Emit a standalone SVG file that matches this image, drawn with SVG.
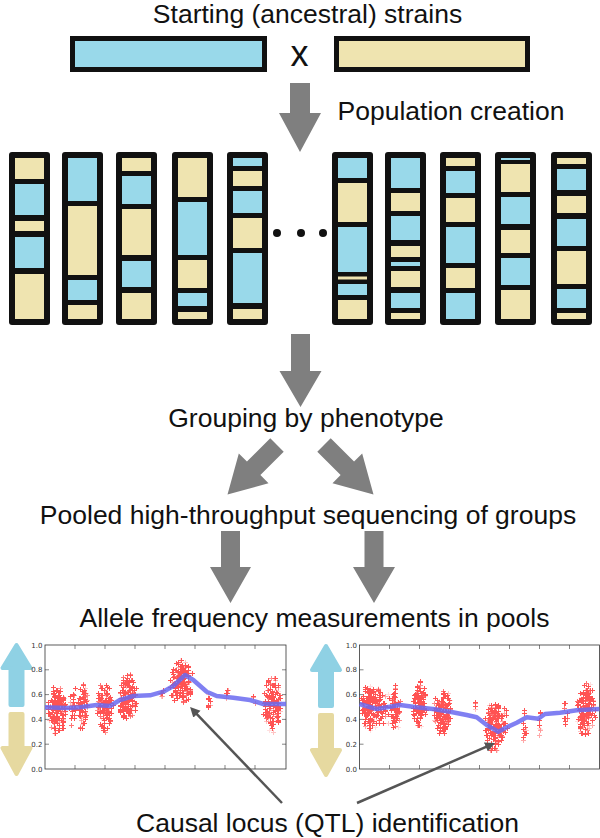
<svg xmlns="http://www.w3.org/2000/svg" width="600" height="838" viewBox="0 0 600 838">
<defs>
<style>
text{font-family:"Liberation Sans",Arial,sans-serif;fill:#111}
.lbl{font-size:26.5px}
.mid{text-anchor:middle}
.tick{font-family:"DejaVu Sans",sans-serif;font-size:7px;fill:#333;text-anchor:end}
.chr{fill:#111}
.b{fill:#99d9ea}
.t{fill:#efe4b0}
.ga{fill:#7f7f7f}
.ax{fill:none;stroke:#333;stroke-width:0.8}
.tk{fill:none;stroke:#333;stroke-width:0.6}
.fit{fill:none;stroke:#6a6af0;stroke-width:4.5;stroke-opacity:0.85;stroke-linejoin:round}
.ptr{stroke:#555;stroke-width:2.5;fill:none}
.upb{fill:#8fd1e4;stroke:#8fd1e4;stroke-width:4;stroke-linejoin:round}
.dnt{fill:#e6d9a0;stroke:#e6d9a0;stroke-width:4;stroke-linejoin:round}
.cl{fill:url(#dg)}
.sp{fill:url(#dg);fill-opacity:0.86}
</style>
<radialGradient id="dg">
<stop offset="0" stop-color="#000" stop-opacity="1"/>
<stop offset="0.6" stop-color="#000" stop-opacity="0.93"/>
<stop offset="1" stop-color="#000" stop-opacity="0.76"/>
</radialGradient>
<filter id="scat" filterUnits="userSpaceOnUse" x="40" y="640" width="565" height="135" color-interpolation-filters="sRGB">
<feTurbulence type="fractalNoise" baseFrequency="0.6" numOctaves="1" seed="11" result="n"/>
<feColorMatrix in="n" type="matrix" values="0 0 0 0 0  0 0 0 0 0  0 0 0 0 0  1 0 0 0 0" result="na"/>
<feComposite in="na" in2="SourceAlpha" operator="arithmetic" k1="0" k2="1" k3="0.5" k4="-0.5" result="m"/>
<feComponentTransfer in="m" result="th"><feFuncA type="linear" slope="40" intercept="-22.4"/></feComponentTransfer>
<feOffset in="th" dx="1" dy="0" result="o1"/>
<feOffset in="th" dx="-1" dy="0" result="o2"/>
<feOffset in="th" dx="2" dy="0" result="o3"/>
<feOffset in="th" dx="-2" dy="0" result="o4"/>
<feOffset in="th" dx="0" dy="1" result="o5"/>
<feOffset in="th" dx="0" dy="-1" result="o6"/>
<feOffset in="th" dx="0" dy="2" result="o7"/>
<feOffset in="th" dx="0" dy="-2" result="o8"/>
<feMerge result="p"><feMergeNode in="th"/><feMergeNode in="o1"/><feMergeNode in="o2"/><feMergeNode in="o3"/><feMergeNode in="o4"/><feMergeNode in="o5"/><feMergeNode in="o6"/><feMergeNode in="o7"/><feMergeNode in="o8"/></feMerge>
<feColorMatrix in="p" type="matrix" values="0 0 0 0 1  0 0 0 0 0.1  0 0 0 0 0.1  0 0 0 0.75 0"/>
</filter>
<marker id="ah" markerUnits="userSpaceOnUse" markerWidth="12" markerHeight="12" refX="4" refY="5" orient="auto">
<path d="M0,0 L10,5 L0,10 z" fill="#555"/>
</marker>
</defs>
<rect width="600" height="838" fill="#fff"/>

<g id="title"><text class="lbl mid" x="307.5" y="23">Starting (ancestral) strains</text></g>

<g id="strain-blue"><rect x="72.5" y="38.5" width="192" height="31" class="b" stroke="#111" stroke-width="5"/></g>
<g id="cross"><text class="mid" x="299.5" y="66" font-size="36">x</text></g>
<g id="strain-tan"><rect x="336.5" y="38.5" width="191" height="31" class="t" stroke="#111" stroke-width="5"/></g>

<g id="label-population"><text class="lbl" x="337.5" y="120">Population creation</text></g>

<g id="chr1"><rect class="chr" x="9" y="152" width="41" height="173" rx="3"/>
<rect class="t" x="15" y="158" width="29" height="21"/><rect class="b" x="15" y="184" width="29" height="31"/><rect class="t" x="15" y="221" width="29" height="10"/><rect class="b" x="15" y="237" width="29" height="31"/><rect class="t" x="15" y="274" width="29" height="45"/></g>
<g id="chr2"><rect class="chr" x="62" y="152" width="41" height="173" rx="3"/>
<rect class="b" x="68" y="158" width="29" height="43"/><rect class="t" x="68" y="206" width="29" height="69"/><rect class="b" x="68" y="280" width="29" height="20"/><rect class="t" x="68" y="305" width="29" height="14"/></g>
<g id="chr3"><rect class="chr" x="116" y="152" width="41" height="173" rx="3"/>
<rect class="t" x="122" y="158" width="29" height="13"/><rect class="b" x="122" y="176" width="29" height="28"/><rect class="t" x="122" y="209" width="29" height="46"/><rect class="b" x="122" y="261" width="29" height="26"/><rect class="t" x="122" y="293" width="29" height="26"/></g>
<g id="chr4"><rect class="chr" x="172" y="152" width="41" height="173" rx="3"/>
<rect class="t" x="178" y="158" width="29" height="39"/><rect class="b" x="178" y="202" width="29" height="53"/><rect class="t" x="178" y="260" width="29" height="28"/><rect class="b" x="178" y="293" width="29" height="13"/><rect class="t" x="178" y="312" width="29" height="7"/></g>
<g id="chr5"><rect class="chr" x="227" y="152" width="41" height="173" rx="3"/>
<rect class="b" x="233" y="158" width="29" height="8"/><rect class="t" x="233" y="171" width="29" height="15"/><rect class="b" x="233" y="191" width="29" height="22"/><rect class="t" x="233" y="218" width="29" height="30"/><rect class="b" x="233" y="253" width="29" height="50"/><rect class="t" x="233" y="309" width="29" height="10"/></g>

<g id="ellipsis"><circle cx="277" cy="233" r="4" fill="#111"/><circle cx="301" cy="233" r="4" fill="#111"/><circle cx="323" cy="233" r="4" fill="#111"/></g>

<g id="chr6"><rect class="chr" x="332" y="152" width="41" height="173" rx="3"/>
<rect class="b" x="338" y="158" width="29" height="20"/><rect class="t" x="338" y="183" width="29" height="39"/><rect class="b" x="338" y="227" width="29" height="45"/><rect class="t" x="338" y="276.5" width="29" height="3"/><rect class="b" x="338" y="284" width="29" height="11"/><rect class="t" x="338" y="300" width="29" height="19"/></g>
<g id="chr7"><rect class="chr" x="385" y="152" width="41" height="173" rx="3"/>
<rect class="b" x="391" y="158" width="29" height="30"/><rect class="t" x="391" y="193" width="29" height="18"/><rect class="b" x="391" y="216" width="29" height="24"/><rect class="t" x="391" y="246" width="29" height="11"/><rect class="b" x="391" y="262" width="29" height="4"/><rect class="t" x="391" y="271" width="29" height="16"/><rect class="b" x="391" y="293" width="29" height="15"/><rect class="t" x="391" y="313" width="29" height="6"/></g>
<g id="chr8"><rect class="chr" x="440" y="152" width="41" height="173" rx="3"/>
<rect class="t" x="446" y="158" width="29" height="8"/><rect class="b" x="446" y="171" width="29" height="22"/><rect class="t" x="446" y="198" width="29" height="24"/><rect class="b" x="446" y="227" width="29" height="36"/><rect class="t" x="446" y="268" width="29" height="20"/><rect class="b" x="446" y="293" width="29" height="26"/></g>
<g id="chr9"><rect class="chr" x="495" y="152" width="41" height="173" rx="3"/>
<rect class="b" x="501" y="158" width="29" height="2"/><rect class="t" x="501" y="164" width="29" height="28"/><rect class="b" x="501" y="197" width="29" height="27"/><rect class="t" x="501" y="230" width="29" height="23"/><rect class="b" x="501" y="258" width="29" height="27"/><rect class="t" x="501" y="290" width="29" height="29"/></g>
<g id="chr10"><rect class="chr" x="551" y="152" width="41" height="173" rx="3"/>
<rect class="t" x="557" y="158" width="29" height="6"/><rect class="b" x="557" y="169" width="29" height="21"/><rect class="t" x="557" y="196" width="29" height="17"/><rect class="b" x="557" y="219" width="29" height="27"/><rect class="t" x="557" y="251" width="29" height="33"/><rect class="b" x="557" y="289" width="29" height="19"/><rect class="t" x="557" y="313" width="29" height="6"/></g>

<g id="label-grouping"><text class="lbl mid" x="306" y="427">Grouping by phenotype</text></g>
<g id="label-pooled"><text class="lbl mid" x="308" y="524">Pooled high-throughput sequencing of groups</text></g>
<g id="label-allele"><text class="lbl mid" x="314.5" y="627">Allele frequency measurements in pools</text></g>

<g id="plot-left">
<polygon class="upb" points="16.5,645 30.5,668 22.5,668 22.5,705 10.5,705 10.5,668 2.5,668"/>
<polygon class="dnt" points="10.5,714 22.5,714 22.5,748 30.5,748 16.5,774 2.5,748 10.5,748"/>
<rect class="ax" x="45" y="645" width="241" height="124" fill="#fff"/>
<path class="tk" d="M75,769v-4M105,769v-4M135,769v-4M165,769v-4M195,769v-4M225,769v-4M255,769v-4M75,645v4M105,645v4M135,645v4M165,645v4M195,645v4M225,645v4M255,645v4M45,669.8h4M45,694.6h4M45,719.4h4M45,744.2h4M286,669.8h-4M286,694.6h-4M286,719.4h-4M286,744.2h-4"/>
<text class="tick" x="42.5" y="647.5">1.0</text><text class="tick" x="42.5" y="672.3">0.8</text><text class="tick" x="42.5" y="697.1">0.6</text><text class="tick" x="42.5" y="721.9">0.4</text><text class="tick" x="42.5" y="746.7">0.2</text><text class="tick" x="42.5" y="771.5">0.0</text>
</g>
<g id="plot-right">
<polygon class="upb" points="326,646 340,670 332,670 332,706 320,706 320,670 312,670"/>
<polygon class="dnt" points="320,715 332,715 332,750 340,750 326,775 312,750 320,750"/>
<rect class="ax" x="359.5" y="645" width="240" height="124" fill="#fff"/>
<path class="tk" d="M389.5,769v-4M419.5,769v-4M449.5,769v-4M479.5,769v-4M509.5,769v-4M539.5,769v-4M569.5,769v-4M389.5,645v4M419.5,645v4M449.5,645v4M479.5,645v4M509.5,645v4M539.5,645v4M569.5,645v4M359.5,669.8h4M359.5,694.6h4M359.5,719.4h4M359.5,744.2h4"/>
<text class="tick" x="357" y="647.5">1.0</text><text class="tick" x="357" y="672.3">0.8</text><text class="tick" x="357" y="697.1">0.6</text><text class="tick" x="357" y="721.9">0.4</text><text class="tick" x="357" y="746.7">0.2</text><text class="tick" x="357" y="771.5">0.0</text>
</g>
<g id="scatter" filter="url(#scat)">
<ellipse class="cl" cx="57" cy="710" rx="10" ry="26"/>
<ellipse class="sp" cx="73" cy="708" rx="6" ry="24"/>
<ellipse class="cl" cx="83.5" cy="708" rx="5.5" ry="26"/>
<ellipse class="cl" cx="105" cy="707" rx="9" ry="26"/>
<ellipse class="cl" cx="128" cy="698" rx="10" ry="26"/>
<ellipse class="sp" cx="162" cy="694" rx="3" ry="7"/>
<ellipse class="cl" cx="181" cy="682" rx="13" ry="23"/>
<ellipse class="sp" cx="210" cy="700" rx="3" ry="16"/>
<ellipse class="sp" cx="227" cy="695" rx="2.5" ry="8"/>
<ellipse class="sp" cx="253" cy="702" rx="3" ry="12"/>
<ellipse class="cl" cx="273" cy="705" rx="11" ry="28"/>
<ellipse class="cl" cx="372" cy="707" rx="12" ry="25"/>
<ellipse class="sp" cx="386" cy="707" rx="5" ry="21"/>
<ellipse class="cl" cx="396" cy="708" rx="5.5" ry="24"/>
<ellipse class="cl" cx="420" cy="705" rx="8" ry="24"/>
<ellipse class="cl" cx="443" cy="712" rx="10" ry="24"/>
<ellipse class="sp" cx="475" cy="705" rx="2" ry="6"/>
<ellipse class="cl" cx="494" cy="727" rx="10" ry="26"/>
<ellipse class="sp" cx="505" cy="725" rx="4" ry="19"/>
<ellipse class="sp" cx="525" cy="725" rx="3" ry="23"/>
<ellipse class="sp" cx="540" cy="724" rx="2" ry="14"/>
<ellipse class="sp" cx="566" cy="713" rx="3" ry="18"/>
<ellipse class="cl" cx="586" cy="709" rx="11" ry="28"/>
</g>
<g id="fit-lines">
<path class="fit" d="M45,707.3 L66.7,708 L80,707.3 L96.7,705 L110,706 L120,700 L133.3,696 L150,695.3 L163.3,691.7 L173.3,686 L185,675 L193.3,680 L206.7,691.7 L216.7,696 L233.3,697.7 L250,700 L263.3,704 L286,704"/>
<path class="fit" d="M359.5,704 L376.7,709 L390,706.7 L400,705 L416.7,707.3 L433,709 L450,711.7 L466.7,715 L476.7,717.3 L486.7,725 L498.3,731.7 L506.7,727.3 L516.7,722.7 L526.7,717.3 L538.3,718.7 L545,714 L560,712.7 L576.7,710.3 L599.5,709"/>
</g>

<g id="label-causal"><text class="lbl mid" x="327.5" y="832">Causal locus (QTL) identification</text></g>

<g id="connectors">
<polygon class="ga" points="290,83 310,83 310,113 321,113 300,152 279,113 290,113"/>
<polygon class="ga" points="291,334 310,334 310,371 321.5,371 300.5,407 279.5,371 291,371"/>
<polygon class="ga" transform="translate(277,445) rotate(45)" points="-9.5,0 9.5,0 9.5,33 21,33 0,70 -21,33 -9.5,33"/>
<polygon class="ga" transform="translate(324,445) rotate(-45)" points="-9.5,0 9.5,0 9.5,33 21,33 0,70 -21,33 -9.5,33"/>
<polygon class="ga" points="221,531 240,531 240,567 251,567 230.5,603 210,567 221,567"/>
<polygon class="ga" points="364.5,531 383.5,531 383.5,567 395,567 374,603 353,567 364.5,567"/>
<line class="ptr" x1="282" y1="803" x2="194.2" y2="711.3" marker-end="url(#ah)"/>
<line class="ptr" x1="357" y1="803" x2="489.5" y2="745.4" marker-end="url(#ah)"/>
</g>
</svg>
